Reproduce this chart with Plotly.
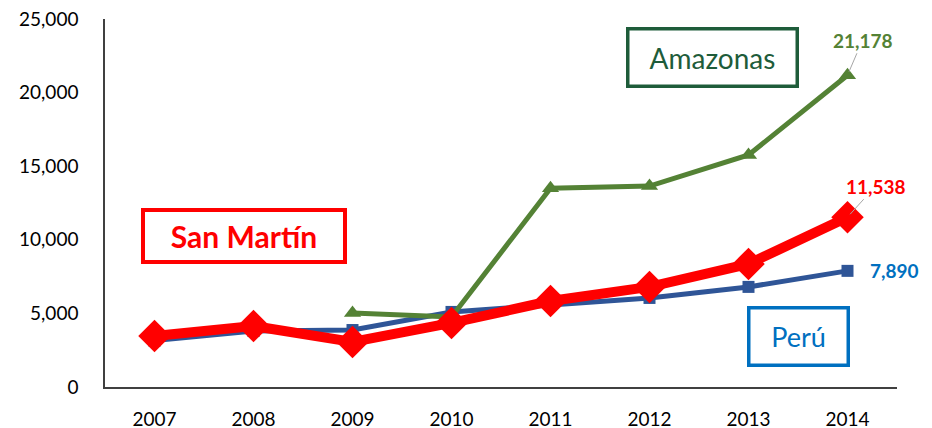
import plotly.graph_objects as go

years = ["2007", "2008", "2009", "2010", "2011", "2012", "2013", "2014"]
peru = [3150, 3800, 3870, 5100, 5570, 6050, 6800, 7890]
san_martin = [3460, 4140, 3060, 4350, 5840, 6800, 8360, 11538]
amazonas_years = ["2009", "2010", "2011", "2012", "2013", "2014"]
amazonas = [5030, 4760, 13500, 13650, 15760, 21178]

FONT = "Lato"
fig = go.Figure()

fig.add_trace(go.Scatter(x=years, y=peru, mode="lines+markers", name="Perú",
                         line=dict(color="#2F5597", width=5),
                         marker=dict(symbol="square", size=12, color="#2F5597")))
fig.add_trace(go.Scatter(x=amazonas_years, y=amazonas, mode="lines+markers", name="Amazonas",
                         line=dict(color="#548235", width=5),
                         marker=dict(symbol="triangle-up", size=15, color="#548235")))
fig.add_trace(go.Scatter(x=years, y=san_martin, mode="lines+markers", name="San Martín",
                         line=dict(color="#FF0000", width=10),
                         marker=dict(symbol="diamond", size=25, color="#FF0000")))

last = len(years) - 1
# data labels
fig.add_annotation(x=last, y=amazonas[-1], text="<b>%s</b>" % f"{amazonas[-1]:,}",
                   showarrow=True, arrowhead=0, arrowwidth=1, arrowcolor="#A6A6A6",
                   ax=15, ay=-35, standoff=4,
                   font=dict(family=FONT, size=19, color="#548235"))
fig.add_annotation(x=last, y=san_martin[-1], text="<b>%s</b>" % f"{san_martin[-1]:,}",
                   showarrow=True, arrowhead=0, arrowwidth=1, arrowcolor="#A6A6A6",
                   ax=28, ay=-31, standoff=4,
                   font=dict(family=FONT, size=19, color="#FF0000"))
fig.add_annotation(x=last, y=peru[-1], text="<b>%s</b>" % f"{peru[-1]:,}",
                   showarrow=False, xshift=20, xanchor="left", yanchor="middle",
                   font=dict(family=FONT, size=19, color="#0070C0"))

# legend-like boxes
fig.add_annotation(xref="paper", yref="paper", x=(712 - 105) / 792, y=(387 - 57) / 368,
                   xanchor="center", yanchor="middle",
                   text="Amazonas", showarrow=False, font=dict(family=FONT, size=28, color="#1E5C3A"),
                   bordercolor="#1E5C3A", borderwidth=3.5, borderpad=8, width=150, height=38,
                   bgcolor="white")
fig.add_annotation(xref="paper", yref="paper", x=(244 - 105) / 792, y=(387 - 236.5) / 368,
                   xanchor="center", yanchor="middle",
                   text="<b>San Martín</b>", showarrow=False, font=dict(family=FONT, size=30, color="#FF0000"),
                   bordercolor="#FF0000", borderwidth=4, borderpad=6, width=186, height=36,
                   bgcolor="white")
fig.add_annotation(xref="paper", yref="paper", x=(798 - 105) / 792, y=(387 - 336) / 368,
                   xanchor="center", yanchor="middle",
                   text="Perú", showarrow=False, font=dict(family=FONT, size=27, color="#0070C0"),
                   bordercolor="#0070C0", borderwidth=3.5, borderpad=8, width=80, height=38,
                   bgcolor="white")

# page body has an 8px default margin, so margins are offset accordingly
fig.update_layout(
    width=932, height=428,
    margin=dict(l=97, r=43, t=11, b=49),
    plot_bgcolor="white", paper_bgcolor="white",
    showlegend=False,
    font=dict(family=FONT, size=19, color="#000000"),
    xaxis=dict(type="category", range=[-0.5, 7.5], showline=True, linecolor="#404040",
               linewidth=1.5, showgrid=False, ticks="", ticklabelstandoff=14, zeroline=False,
               automargin=False, ticklabeloverflow="allow"),
    yaxis=dict(range=[0, 25000], dtick=5000, tickformat=",", showline=True, linecolor="#404040",
               linewidth=1.5, showgrid=False, ticks="", ticklabelstandoff=21, zeroline=False,
               automargin=False, ticklabeloverflow="allow"),
)

fig.write_html("out.html")
